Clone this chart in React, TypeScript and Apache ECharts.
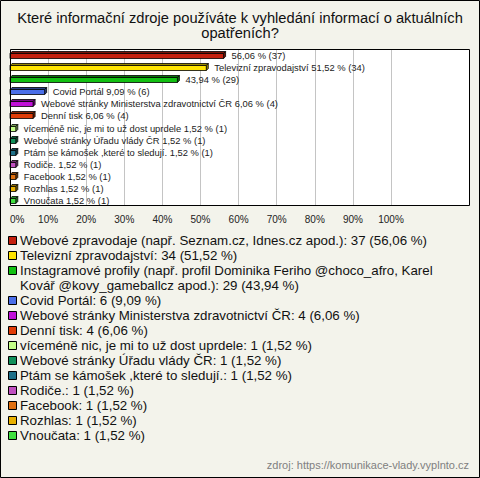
import React, { useEffect, useRef } from "react";
import * as echarts from "echarts";

const titleText = "Které informační zdroje používáte k vyhledání informací o aktuálních\nopatřeních?";
const sourceText = "zdroj: https://komunikace-vlady.vyplnto.cz";
const legendNames = [
  "Webové zpravodaje (např. Seznam.cz, Idnes.cz apod.)",
  "Televizní zpravodajství",
  "Instagramové profily (např. profil Dominika Feriho @choco_afro, Karel Kovář @kovy_gameballcz apod.)",
  "Covid Portál",
  "Webové stránky Ministerstva zdravotnictví ČR",
  "Denní tisk",
  "víceméně nic, je mi to už dost uprdele",
  "Webové stránky Úřadu vlády ČR",
  "Ptám se kámošek ,které to sledují.",
  "Rodiče.",
  "Facebook",
  "Rozhlas",
  "Vnoučata",
];
const barLabelNames = [
  "",
  "Televizní zpravodajství",
  "",
  "Covid Portál",
  "Webové stránky Ministerstva zdravotnictví ČR",
  "Denní tisk",
  "víceméně nic, je mi to už dost uprdele",
  "Webové stránky Úřadu vlády ČR",
  "Ptám se kámošek ,které to sledují.",
  "Rodiče.",
  "Facebook",
  "Rozhlas",
  "Vnoučata",
];
const counts = [37, 34, 29, 6, 4, 4, 1, 1, 1, 1, 1, 1, 1];
const percents = [56.06, 51.52, 43.94, 9.09, 6.06, 6.06, 1.52, 1.52, 1.52, 1.52, 1.52, 1.52, 1.52];
const colors = [
  "#c4200e", "#ffe400", "#12c012", "#4a6ee8", "#c010d8", "#e03c08", "#c4ff88",
  "#10905a", "#1e7088", "#c050c0", "#e07010", "#e8b000", "#40e040",
];
const xTicks = [0, 10, 20, 30, 40, 50, 60, 70, 80, 90, 100];

const FONT = "'Liberation Sans', Arial, sans-serif";
const fmt = (v: number) => v.toFixed(2).replace(".", ",");

function darken(hex: string, f: number) {
  const n = parseInt(hex.slice(1), 16);
  const r = Math.round(((n >> 16) & 255) * f);
  const g = Math.round(((n >> 8) & 255) * f);
  const b = Math.round((n & 255) * f);
  return `rgb(${r},${g},${b})`;
}

function wrapText(text: string, font: string, maxW: number): string[] {
  const ctx = document.createElement("canvas").getContext("2d")!;
  ctx.font = font;
  const words = text.split(" ");
  const lines: string[] = [];
  let cur = "";
  for (const w of words) {
    const t = cur ? cur + " " + w : w;
    if (cur && ctx.measureText(t).width > maxW) {
      lines.push(cur);
      cur = w;
    } else cur = t;
  }
  if (cur) lines.push(cur);
  return lines;
}

export default function App() {
  const ref = useRef<HTMLDivElement>(null);
  useEffect(() => {
    document.body.style.margin = "0";
    const chart = echarts.init(ref.current!, null, { renderer: "svg" });
    const W = 480, H = 478;
    const gx = 10, gy = 49, gw = 381, gh = 157;

    const series: any[] = [
      {
        type: "custom",
        data: percents.map((p, i) => [p, i]),
        encode: { x: 0, y: 1 },
        renderItem: (params: any, api: any) => {
          const i = params.dataIndex;
          const v = api.value(0);
          const idx = api.value(1);
          const p0 = api.coord([0, idx]);
          const p1 = api.coord([v, idx]);
          const x0 = p0[0];
          const x1 = p1[0];
          const c = Math.round(p0[1]) + 0.5;
          const d = 2;
          const yt = c - 2;
          const yb = c + 3;
          const col = colors[i];
          const dark = darken(col, 0.6);
          const stroke = { stroke: "#000", lineWidth: 0.8 };
          const label = (barLabelNames[i] ? barLabelNames[i] + " " : "") + `${fmt(percents[i])} % (${counts[i]})`;
          return {
            type: "group",
            children: [
              {
                type: "polygon",
                shape: { points: [[x0, yt], [x0 + d, yt - d], [x1 + d, yt - d], [x1, yt]] },
                style: { fill: dark, ...stroke },
              },
              {
                type: "polygon",
                shape: { points: [[x1, yt], [x1 + d, yt - d], [x1 + d, yb - d], [x1, yb]] },
                style: { fill: dark, ...stroke },
              },
              {
                type: "rect",
                shape: { x: x0, y: yt, width: Math.max(x1 - x0, 0.5), height: yb - yt },
                style: { fill: col, ...stroke },
              },
              {
                type: "text",
                x: x1 + d + 6,
                y: c,
                style: {
                  text: label,
                  fill: "#222",
                  font: `9.4px ${FONT}`,
                  verticalAlign: "middle",
                  align: "left",
                },
              },
            ],
          };
        },
      },
    ];

    const legendFont = `13.3px ${FONT}`;
    const legendEls: any[] = [];
    let ly = 233;
    legendNames.forEach((name, i) => {
      const txt = `${name}: ${counts[i]} (${fmt(percents[i])} %)`;
      const lines = wrapText(txt, legendFont, 430);
      legendEls.push({
        type: "rect",
        shape: { x: 8.5, y: ly + 3.5, width: 8, height: 8 },
        style: { fill: colors[i], stroke: "#000", lineWidth: 1 },
      });
      legendEls.push({
        type: "text",
        x: 20,
        y: ly,
        style: {
          text: lines.join("\n"),
          font: legendFont,
          fill: "#111",
          lineHeight: 15,
          verticalAlign: "top",
          align: "left",
        },
      });
      ly += 15 * lines.length;
    });

    chart.setOption({
      animation: false,
      backgroundColor: "#f3f3eb",
      grid: { left: gx, top: gy, width: gw, height: gh },
      xAxis: {
        type: "value",
        min: 0,
        max: 100,
        interval: 10,
        axisLine: { show: false },
        axisTick: { show: false },
        splitLine: { show: true, lineStyle: { color: "#c4c4c4", width: 1 } },
        axisLabel: {
          formatter: (v: number) => (xTicks.includes(v) ? `${v}%` : ""),
          fontFamily: FONT,
          fontSize: 10,
          color: "#222",
          margin: 8,
          alignMinLabel: "left",
        },
      },
      yAxis: {
        type: "category",
        data: legendNames,
        inverse: true,
        axisLine: { show: false },
        axisTick: { show: false },
        axisLabel: { show: false },
        splitLine: { show: false },
      },
      graphic: [
        {
          type: "rect",
          z: -10,
          shape: { x: gx, y: gy, width: 470 - gx, height: gh },
          style: { fill: "#ffffff" },
        },
        {
          type: "rect",
          z: 100,
          shape: { x: gx + 0.5, y: gy + 0.5, width: 470 - gx - 1, height: gh - 1 },
          style: { fill: "none", stroke: "#000", lineWidth: 1 },
        },
        {
          type: "rect",
          z: 100,
          shape: { x: 0.5, y: 0.5, width: W - 1, height: H - 1 },
          style: { fill: "none", stroke: "#000", lineWidth: 1 },
        },
        {
          type: "text",
          z: 100,
          x: 240,
          y: 10,
          style: {
            text: titleText,
            fill: "#111",
            font: `14.7px ${FONT}`,
            lineHeight: 15,
            align: "center",
            verticalAlign: "top",
          },
        },
        {
          type: "group",
          z: 100,
          children: legendEls,
        },
        {
          type: "text",
          z: 100,
          x: 469,
          y: 465,
          style: {
            text: sourceText,
            fill: "#808080",
            font: `11px ${FONT}`,
            align: "right",
            verticalAlign: "middle",
          },
        },
      ],
      series,
    });
    return () => chart.dispose();
  }, []);
  return <div ref={ref} style={{ position: "absolute", left: 0, top: 0, width: 480, height: 478 }} />;
}
